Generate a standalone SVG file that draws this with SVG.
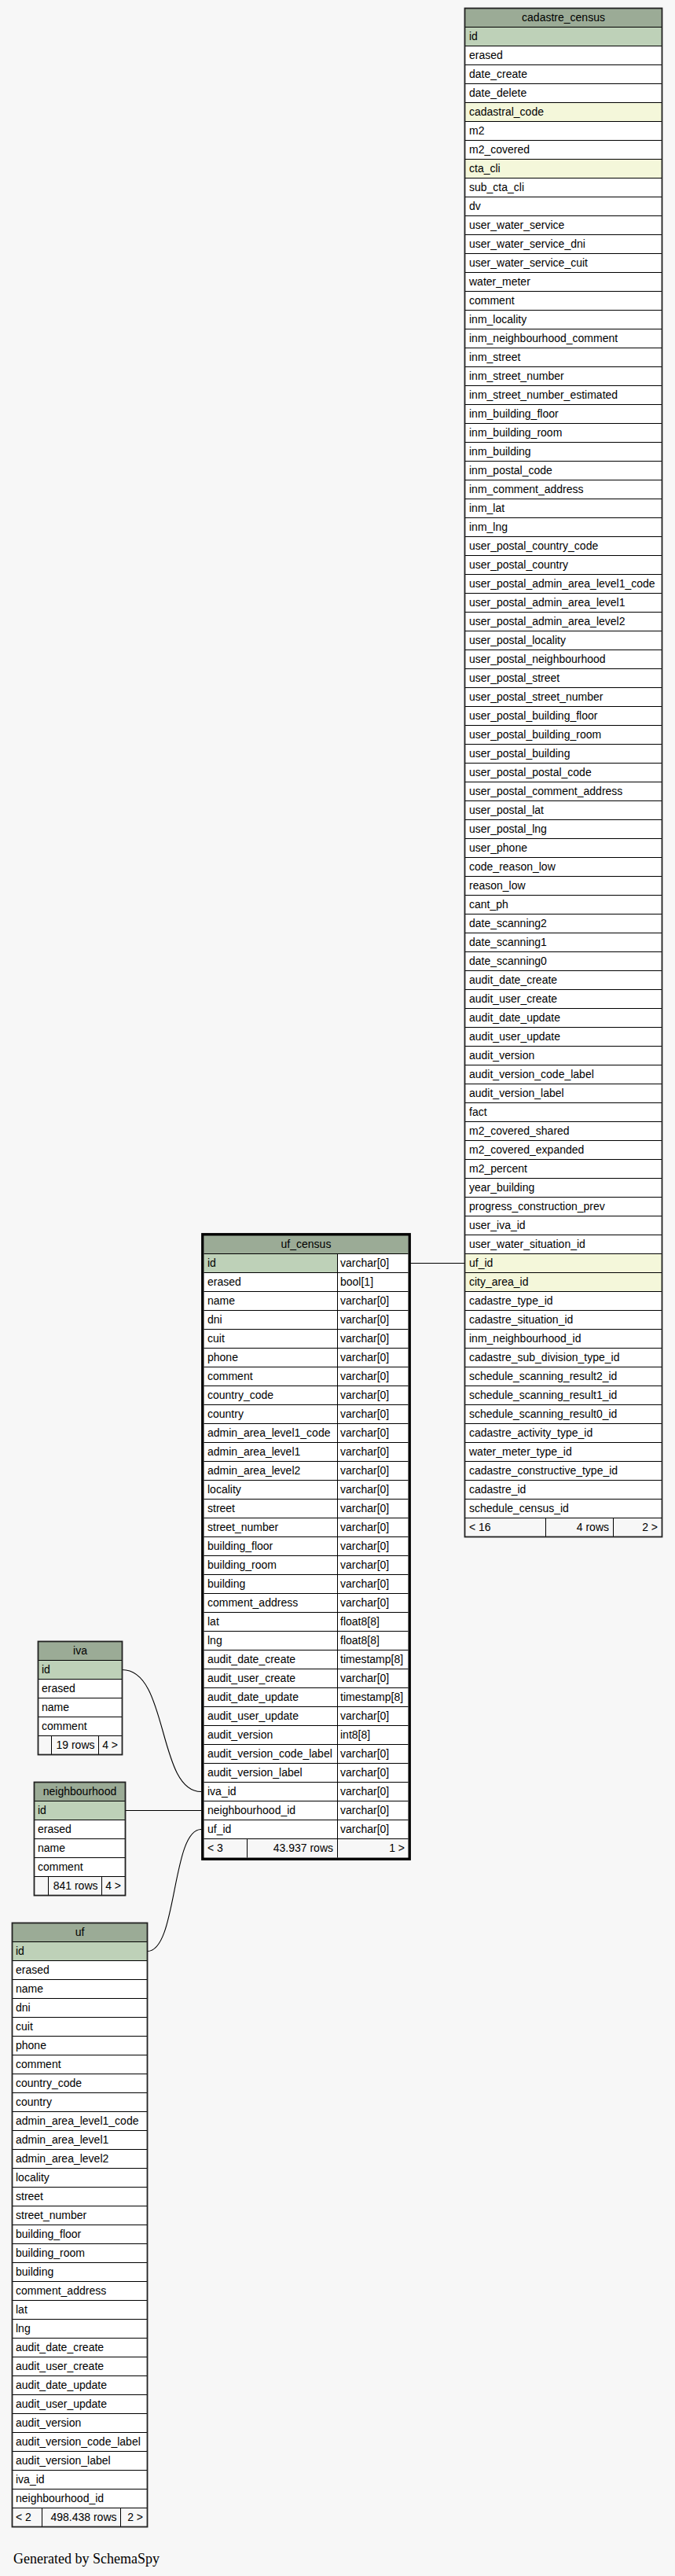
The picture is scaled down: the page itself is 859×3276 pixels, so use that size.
<svg xmlns="http://www.w3.org/2000/svg" width="859" height="3276" viewBox="0 0 859 3276">
<style>
.h{fill:#9bab96}
.pk{fill:#bed1b8}
.ix{fill:#f4f7da}
.r{fill:#ffffff}
.f{fill:#f7f7f7}
.ln{fill:none;stroke:#000;stroke-width:1}
.ob{fill:none;stroke:#222;stroke-width:1.8}
.fb{fill:none;stroke:#000;stroke-width:3.4}
text{font-family:"Liberation Sans",Arial,sans-serif;font-size:14px;fill:#000}
.c{text-anchor:middle}
.e{text-anchor:end}
.edge{fill:none;stroke:#000;stroke-width:1.1}
.gen{font-family:"Liberation Serif","Times New Roman",serif;font-size:18px}
</style>
<rect x="0" y="0" width="859" height="3276" fill="#f7f7f7"/>

<g id="connectors">
<path class="edge" d="M522,1606.5H591.5"/>
<path class="edge" d="M155.5,2123.5C215,2123.5 200,2278.5 256,2278.5"/>
<path class="edge" d="M159.5,2302.5H256"/>
<path class="edge" d="M187.5,2481.5C226,2481.5 218,2326.5 256,2326.5"/>
</g>

<g id="cadastre_census">
<rect class="h" x="591.5" y="10.5" width="251" height="24"/>
<rect class="r" x="591.5" y="34.5" width="251" height="1896"/>
<rect class="pk" x="591.5" y="34.5" width="251" height="24"/>
<rect class="ix" x="591.5" y="130.5" width="251" height="24"/>
<rect class="ix" x="591.5" y="202.5" width="251" height="24"/>
<rect class="ix" x="591.5" y="1594.5" width="251" height="48"/>
<rect class="f" x="591.5" y="1930.5" width="251" height="24"/>
<path class="ln" d="M591.5,34.5h251m-251,24h251m-251,24h251m-251,24h251m-251,24h251m-251,24h251m-251,24h251m-251,24h251m-251,24h251m-251,24h251m-251,24h251m-251,24h251m-251,24h251m-251,24h251m-251,24h251m-251,24h251m-251,24h251m-251,24h251m-251,24h251m-251,24h251m-251,24h251m-251,24h251m-251,24h251m-251,24h251m-251,24h251m-251,24h251m-251,24h251m-251,24h251m-251,24h251m-251,24h251m-251,24h251m-251,24h251m-251,24h251m-251,24h251m-251,24h251m-251,24h251m-251,24h251m-251,24h251m-251,24h251m-251,24h251m-251,24h251m-251,24h251m-251,24h251m-251,24h251m-251,24h251m-251,24h251m-251,24h251m-251,24h251m-251,24h251m-251,24h251m-251,24h251m-251,24h251m-251,24h251m-251,24h251m-251,24h251m-251,24h251m-251,24h251m-251,24h251m-251,24h251m-251,24h251m-251,24h251m-251,24h251m-251,24h251m-251,24h251m-251,24h251m-251,24h251m-251,24h251m-251,24h251m-251,24h251m-251,24h251m-251,24h251m-251,24h251m-251,24h251m-251,24h251m-251,24h251m-251,24h251m-251,24h251m-251,24h251m-251,24h251m-251,24h251M694.5,1930.5v24M780.5,1930.5v24"/>
<rect class="ob" x="591.5" y="10.5" width="251" height="1944"/>
<text class="c" x="717" y="26.5">cadastre_census</text>
<text x="597" y="50.5">id</text>
<text x="597" y="74.5">erased</text>
<text x="597" y="98.5">date_create</text>
<text x="597" y="122.5">date_delete</text>
<text x="597" y="146.5">cadastral_code</text>
<text x="597" y="170.5">m2</text>
<text x="597" y="194.5">m2_covered</text>
<text x="597" y="218.5">cta_cli</text>
<text x="597" y="242.5">sub_cta_cli</text>
<text x="597" y="266.5">dv</text>
<text x="597" y="290.5">user_water_service</text>
<text x="597" y="314.5">user_water_service_dni</text>
<text x="597" y="338.5">user_water_service_cuit</text>
<text x="597" y="362.5">water_meter</text>
<text x="597" y="386.5">comment</text>
<text x="597" y="410.5">inm_locality</text>
<text x="597" y="434.5">inm_neighbourhood_comment</text>
<text x="597" y="458.5">inm_street</text>
<text x="597" y="482.5">inm_street_number</text>
<text x="597" y="506.5">inm_street_number_estimated</text>
<text x="597" y="530.5">inm_building_floor</text>
<text x="597" y="554.5">inm_building_room</text>
<text x="597" y="578.5">inm_building</text>
<text x="597" y="602.5">inm_postal_code</text>
<text x="597" y="626.5">inm_comment_address</text>
<text x="597" y="650.5">inm_lat</text>
<text x="597" y="674.5">inm_lng</text>
<text x="597" y="698.5">user_postal_country_code</text>
<text x="597" y="722.5">user_postal_country</text>
<text x="597" y="746.5">user_postal_admin_area_level1_code</text>
<text x="597" y="770.5">user_postal_admin_area_level1</text>
<text x="597" y="794.5">user_postal_admin_area_level2</text>
<text x="597" y="818.5">user_postal_locality</text>
<text x="597" y="842.5">user_postal_neighbourhood</text>
<text x="597" y="866.5">user_postal_street</text>
<text x="597" y="890.5">user_postal_street_number</text>
<text x="597" y="914.5">user_postal_building_floor</text>
<text x="597" y="938.5">user_postal_building_room</text>
<text x="597" y="962.5">user_postal_building</text>
<text x="597" y="986.5">user_postal_postal_code</text>
<text x="597" y="1010.5">user_postal_comment_address</text>
<text x="597" y="1034.5">user_postal_lat</text>
<text x="597" y="1058.5">user_postal_lng</text>
<text x="597" y="1082.5">user_phone</text>
<text x="597" y="1106.5">code_reason_low</text>
<text x="597" y="1130.5">reason_low</text>
<text x="597" y="1154.5">cant_ph</text>
<text x="597" y="1178.5">date_scanning2</text>
<text x="597" y="1202.5">date_scanning1</text>
<text x="597" y="1226.5">date_scanning0</text>
<text x="597" y="1250.5">audit_date_create</text>
<text x="597" y="1274.5">audit_user_create</text>
<text x="597" y="1298.5">audit_date_update</text>
<text x="597" y="1322.5">audit_user_update</text>
<text x="597" y="1346.5">audit_version</text>
<text x="597" y="1370.5">audit_version_code_label</text>
<text x="597" y="1394.5">audit_version_label</text>
<text x="597" y="1418.5">fact</text>
<text x="597" y="1442.5">m2_covered_shared</text>
<text x="597" y="1466.5">m2_covered_expanded</text>
<text x="597" y="1490.5">m2_percent</text>
<text x="597" y="1514.5">year_building</text>
<text x="597" y="1538.5">progress_construction_prev</text>
<text x="597" y="1562.5">user_iva_id</text>
<text x="597" y="1586.5">user_water_situation_id</text>
<text x="597" y="1610.5">uf_id</text>
<text x="597" y="1634.5">city_area_id</text>
<text x="597" y="1658.5">cadastre_type_id</text>
<text x="597" y="1682.5">cadastre_situation_id</text>
<text x="597" y="1706.5">inm_neighbourhood_id</text>
<text x="597" y="1730.5">cadastre_sub_division_type_id</text>
<text x="597" y="1754.5">schedule_scanning_result2_id</text>
<text x="597" y="1778.5">schedule_scanning_result1_id</text>
<text x="597" y="1802.5">schedule_scanning_result0_id</text>
<text x="597" y="1826.5">cadastre_activity_type_id</text>
<text x="597" y="1850.5">water_meter_type_id</text>
<text x="597" y="1874.5">cadastre_constructive_type_id</text>
<text x="597" y="1898.5">cadastre_id</text>
<text x="597" y="1922.5">schedule_census_id</text>
<text x="597" y="1946.5">&lt; 16</text>
<text class="e" x="775" y="1946.5">4 rows</text>
<text class="e" x="837" y="1946.5">2 &gt;</text>
</g>

<g id="uf_census">
<rect class="h" x="259.5" y="1570.5" width="260" height="24"/>
<rect class="r" x="259.5" y="1594.5" width="260" height="744"/>
<rect class="pk" x="259.5" y="1594.5" width="170" height="24"/>
<rect class="f" x="259.5" y="2338.5" width="260" height="24"/>
<path class="ln" d="M259.5,1594.5h260m-260,24h260m-260,24h260m-260,24h260m-260,24h260m-260,24h260m-260,24h260m-260,24h260m-260,24h260m-260,24h260m-260,24h260m-260,24h260m-260,24h260m-260,24h260m-260,24h260m-260,24h260m-260,24h260m-260,24h260m-260,24h260m-260,24h260m-260,24h260m-260,24h260m-260,24h260m-260,24h260m-260,24h260m-260,24h260m-260,24h260m-260,24h260m-260,24h260m-260,24h260m-260,24h260m-260,24h260M429.5,1594.5V2362.5M314.5,2338.5v24"/>
<rect class="fb" x="257.8" y="1569.8" width="263.4" height="794.4"/>
<text class="c" x="389.5" y="1586.5">uf_census</text>
<text x="264" y="1610.5">id</text><text x="433" y="1610.5">varchar[0]</text>
<text x="264" y="1634.5">erased</text><text x="433" y="1634.5">bool[1]</text>
<text x="264" y="1658.5">name</text><text x="433" y="1658.5">varchar[0]</text>
<text x="264" y="1682.5">dni</text><text x="433" y="1682.5">varchar[0]</text>
<text x="264" y="1706.5">cuit</text><text x="433" y="1706.5">varchar[0]</text>
<text x="264" y="1730.5">phone</text><text x="433" y="1730.5">varchar[0]</text>
<text x="264" y="1754.5">comment</text><text x="433" y="1754.5">varchar[0]</text>
<text x="264" y="1778.5">country_code</text><text x="433" y="1778.5">varchar[0]</text>
<text x="264" y="1802.5">country</text><text x="433" y="1802.5">varchar[0]</text>
<text x="264" y="1826.5">admin_area_level1_code</text><text x="433" y="1826.5">varchar[0]</text>
<text x="264" y="1850.5">admin_area_level1</text><text x="433" y="1850.5">varchar[0]</text>
<text x="264" y="1874.5">admin_area_level2</text><text x="433" y="1874.5">varchar[0]</text>
<text x="264" y="1898.5">locality</text><text x="433" y="1898.5">varchar[0]</text>
<text x="264" y="1922.5">street</text><text x="433" y="1922.5">varchar[0]</text>
<text x="264" y="1946.5">street_number</text><text x="433" y="1946.5">varchar[0]</text>
<text x="264" y="1970.5">building_floor</text><text x="433" y="1970.5">varchar[0]</text>
<text x="264" y="1994.5">building_room</text><text x="433" y="1994.5">varchar[0]</text>
<text x="264" y="2018.5">building</text><text x="433" y="2018.5">varchar[0]</text>
<text x="264" y="2042.5">comment_address</text><text x="433" y="2042.5">varchar[0]</text>
<text x="264" y="2066.5">lat</text><text x="433" y="2066.5">float8[8]</text>
<text x="264" y="2090.5">lng</text><text x="433" y="2090.5">float8[8]</text>
<text x="264" y="2114.5">audit_date_create</text><text x="433" y="2114.5">timestamp[8]</text>
<text x="264" y="2138.5">audit_user_create</text><text x="433" y="2138.5">varchar[0]</text>
<text x="264" y="2162.5">audit_date_update</text><text x="433" y="2162.5">timestamp[8]</text>
<text x="264" y="2186.5">audit_user_update</text><text x="433" y="2186.5">varchar[0]</text>
<text x="264" y="2210.5">audit_version</text><text x="433" y="2210.5">int8[8]</text>
<text x="264" y="2234.5">audit_version_code_label</text><text x="433" y="2234.5">varchar[0]</text>
<text x="264" y="2258.5">audit_version_label</text><text x="433" y="2258.5">varchar[0]</text>
<text x="264" y="2282.5">iva_id</text><text x="433" y="2282.5">varchar[0]</text>
<text x="264" y="2306.5">neighbourhood_id</text><text x="433" y="2306.5">varchar[0]</text>
<text x="264" y="2330.5">uf_id</text><text x="433" y="2330.5">varchar[0]</text>
<text x="264" y="2354.5">&lt; 3</text>
<text class="e" x="424" y="2354.5">43.937 rows</text>
<text class="e" x="515" y="2354.5">1 &gt;</text>
</g>

<g id="iva">
<rect class="h" x="48.5" y="2087.5" width="107" height="24"/>
<rect class="r" x="48.5" y="2111.5" width="107" height="96"/>
<rect class="pk" x="48.5" y="2111.5" width="107" height="24"/>
<rect class="f" x="48.5" y="2207.5" width="107" height="24"/>
<path class="ln" d="M48.5,2111.5h107m-107,24h107m-107,24h107m-107,24h107m-107,24h107M65.5,2207.5v24M125.5,2207.5v24"/>
<rect class="ob" x="48.5" y="2087.5" width="107" height="144"/>
<text class="c" x="102" y="2103.5">iva</text>
<text x="53" y="2127.5">id</text>
<text x="53" y="2151.5">erased</text>
<text x="53" y="2175.5">name</text>
<text x="53" y="2199.5">comment</text>
<text class="e" x="120.5" y="2223.5">19 rows</text>
<text class="e" x="150" y="2223.5">4 &gt;</text>
</g>

<g id="neighbourhood">
<rect class="h" x="43.5" y="2266.5" width="116" height="24"/>
<rect class="r" x="43.5" y="2290.5" width="116" height="96"/>
<rect class="pk" x="43.5" y="2290.5" width="116" height="24"/>
<rect class="f" x="43.5" y="2386.5" width="116" height="24"/>
<path class="ln" d="M43.5,2290.5h116m-116,24h116m-116,24h116m-116,24h116m-116,24h116M61.5,2386.5v24M129.5,2386.5v24"/>
<rect class="ob" x="43.5" y="2266.5" width="116" height="144"/>
<text class="c" x="101.5" y="2282.5">neighbourhood</text>
<text x="48" y="2306.5">id</text>
<text x="48" y="2330.5">erased</text>
<text x="48" y="2354.5">name</text>
<text x="48" y="2378.5">comment</text>
<text class="e" x="124.5" y="2402.5">841 rows</text>
<text class="e" x="154" y="2402.5">4 &gt;</text>
</g>

<g id="uf">
<rect class="h" x="15.5" y="2445.5" width="172" height="24"/>
<rect class="r" x="15.5" y="2469.5" width="172" height="720"/>
<rect class="pk" x="15.5" y="2469.5" width="172" height="24"/>
<rect class="f" x="15.5" y="3189.5" width="172" height="24"/>
<path class="ln" d="M15.5,2469.5h172m-172,24h172m-172,24h172m-172,24h172m-172,24h172m-172,24h172m-172,24h172m-172,24h172m-172,24h172m-172,24h172m-172,24h172m-172,24h172m-172,24h172m-172,24h172m-172,24h172m-172,24h172m-172,24h172m-172,24h172m-172,24h172m-172,24h172m-172,24h172m-172,24h172m-172,24h172m-172,24h172m-172,24h172m-172,24h172m-172,24h172m-172,24h172m-172,24h172m-172,24h172m-172,24h172M53.5,3189.5v24M153.5,3189.5v24"/>
<rect class="ob" x="15.5" y="2445.5" width="172" height="768"/>
<text class="c" x="101.5" y="2461.5">uf</text>
<text x="20" y="2485.5">id</text>
<text x="20" y="2509.5">erased</text>
<text x="20" y="2533.5">name</text>
<text x="20" y="2557.5">dni</text>
<text x="20" y="2581.5">cuit</text>
<text x="20" y="2605.5">phone</text>
<text x="20" y="2629.5">comment</text>
<text x="20" y="2653.5">country_code</text>
<text x="20" y="2677.5">country</text>
<text x="20" y="2701.5">admin_area_level1_code</text>
<text x="20" y="2725.5">admin_area_level1</text>
<text x="20" y="2749.5">admin_area_level2</text>
<text x="20" y="2773.5">locality</text>
<text x="20" y="2797.5">street</text>
<text x="20" y="2821.5">street_number</text>
<text x="20" y="2845.5">building_floor</text>
<text x="20" y="2869.5">building_room</text>
<text x="20" y="2893.5">building</text>
<text x="20" y="2917.5">comment_address</text>
<text x="20" y="2941.5">lat</text>
<text x="20" y="2965.5">lng</text>
<text x="20" y="2989.5">audit_date_create</text>
<text x="20" y="3013.5">audit_user_create</text>
<text x="20" y="3037.5">audit_date_update</text>
<text x="20" y="3061.5">audit_user_update</text>
<text x="20" y="3085.5">audit_version</text>
<text x="20" y="3109.5">audit_version_code_label</text>
<text x="20" y="3133.5">audit_version_label</text>
<text x="20" y="3157.5">iva_id</text>
<text x="20" y="3181.5">neighbourhood_id</text>
<text x="20" y="3205.5">&lt; 2</text>
<text class="e" x="148.5" y="3205.5">498.438 rows</text>
<text class="e" x="182" y="3205.5">2 &gt;</text>
</g>

<text class="gen" x="17" y="3260">Generated by SchemaSpy</text>
</svg>
